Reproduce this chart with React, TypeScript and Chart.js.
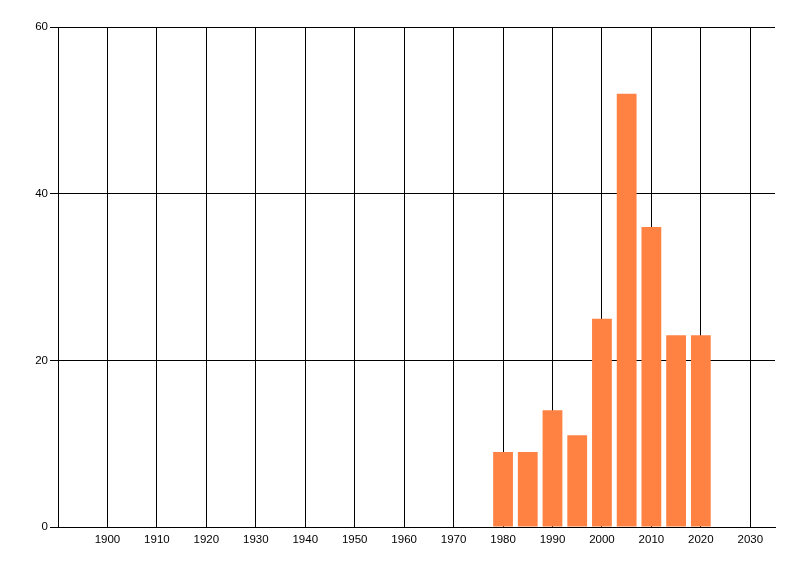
import { useEffect, useRef } from 'react';
import { Chart, registerables } from 'chart.js';

Chart.register(...registerables);

const years = [1980, 1985, 1990, 1995, 2000, 2005, 2010, 2015, 2020];
const counts = [9, 9, 14, 11, 25, 52, 36, 23, 23];
const xTicks = [1900, 1910, 1920, 1930, 1940, 1950, 1960, 1970, 1980, 1990, 2000, 2010, 2020, 2030];
const yTicks = [0, 20, 40, 60];

export default function App() {
  const canvasRef = useRef<HTMLCanvasElement>(null);
  const chartRef = useRef<Chart | null>(null);

  useEffect(() => {
    document.body.style.margin = '0';
    if (!canvasRef.current) return;
    if (chartRef.current) chartRef.current.destroy();

    const font = { family: '"Liberation Sans", Arial, sans-serif', size: 11.5 };

    chartRef.current = new Chart(canvasRef.current, {
      type: 'bar',
      data: {
        datasets: [
          {
            data: years.map((y, i) => ({ x: y, y: counts[i] })),
            backgroundColor: '#FF8243',
            borderWidth: 0,
            barPercentage: 0.8,
            categoryPercentage: 1,
          },
        ],
      },
      options: {
        responsive: false,
        animation: false,
        layout: { padding: { top: 27, right: 25, left: 0, bottom: 0 } },
        plugins: { legend: { display: false }, tooltip: { enabled: false } },
        scales: {
          x: {
            type: 'linear',
            offset: false,
            min: 1890,
            max: 2035,
            afterBuildTicks: (scale: any) => {
              scale.ticks = xTicks.map((v) => ({ value: v }));
            },
            afterFit: (scale: any) => {
              scale.height = 49;
            },
            grid: { color: '#000', lineWidth: 1, drawTicks: false, offset: false },
            border: { color: '#000', width: 1 },
            ticks: {
              color: '#000',
              font,
              padding: 6,
              maxRotation: 0,
              autoSkip: false,
              callback: (v: any) => String(v),
            },
          },
          y: {
            min: 0,
            max: 60,
            afterBuildTicks: (scale: any) => {
              scale.ticks = yTicks.map((v) => ({ value: v }));
            },
            afterFit: (scale: any) => {
              scale.width = 58;
            },
            grid: { color: '#000', lineWidth: 1, drawTicks: true, tickLength: 8 },
            border: { color: '#000', width: 1 },
            ticks: { color: '#000', font, padding: 2 },
          },
        },
      },
    });

    return () => {
      chartRef.current?.destroy();
      chartRef.current = null;
    };
  }, []);

  return (
    <div style={{ width: 800, height: 576, background: '#fff' }}>
      <canvas ref={canvasRef} width={800} height={576} />
    </div>
  );
}
